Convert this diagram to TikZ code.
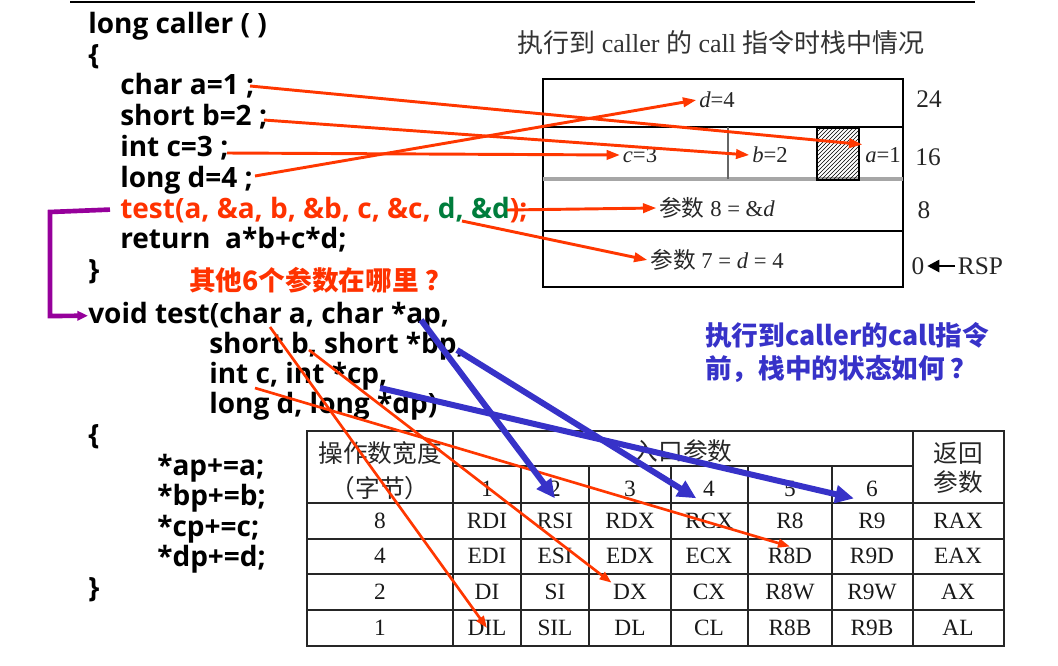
\documentclass[tikz,border=0pt]{standalone}
\usepackage{fontspec}
\setmainfont{Liberation Serif}
\newfontfamily\codefont{Open Sans}
\newfontfamily\cjk{Noto Sans CJK SC}
\usetikzlibrary{arrows.meta,patterns}
\definecolor{redline}{RGB}{255,55,0}
\definecolor{blueline}{RGB}{55,50,200}
\definecolor{purpline}{RGB}{150,0,155}
\definecolor{argred}{RGB}{255,50,0}
\definecolor{arggreen}{RGB}{0,125,60}

\begin{document}
\begin{tikzpicture}[x=0.75pt, y=-0.75pt,
    code/.style={anchor=base west, inner sep=0pt, font=\codefont\bfseries\fontsize{21}{21}\selectfont},
    note/.style={anchor=base west, inner sep=0pt, font=\cjk\bfseries\fontsize{20}{25}\selectfont},
    slot/.style={inner sep=2pt, text=black!85, font=\fontsize{17}{17}\selectfont},
    offs/.style={inner sep=2pt, text=black!85, font=\fontsize{19}{19}\selectfont},
    cell/.style={inner sep=1pt, text=black!90, font=\fontsize{17.5}{17.5}\selectfont},
    head/.style={inner sep=1pt, text=black!85, font=\cjk\fontsize{18.5}{22}\selectfont},
    redarrow/.style={-{Triangle[length=10pt,width=7pt]}, redline, line width=2.2pt},
    thinarrow/.style={-{Triangle[length=9pt,width=6.5pt]}, redline, line width=2pt},
    bluearrow/.style={-{Triangle[length=14pt,width=13pt]}, blueline, line width=4.5pt},
    grid/.style={line width=1pt, black!85}
]
    \useasboundingbox (0,0) rectangle (1058,665);
    \draw[line width=0.8pt] (70,2) -- (975,2);

    \node[code] (caller) at (88,33) {long caller ( )};
    \node[code] (open1) at (88,64) {\{};
    \node[code] (la) at (120,94) {char a=1 ;};
    \node[code] (lb) at (120,125) {short b=2 ;};
    \node[code] (lc) at (120,156) {int c=3 ;};
    \node[code] (ld) at (120,187) {long d=4 ;};
    \node[code, text=argred] (call) at (120,218) {test(a, \&a, b, \&b, c, \&c, \textcolor{arggreen}{d, \&d});};
    \node[code] (ret) at (120,248) {return \ a*b+c*d;};
    \node[code] (close1) at (88,279) {\}};
    \node[note, text=argred] (where) at (189,290) {其他6个参数在哪里\hspace{5pt}？};
    \node[code] (decl) at (88,323) {void test(char a, char *ap,};
    \node[code] (declb) at (209,353) {short b, short *bp,};
    \node[code] (declc) at (209,383) {int c, int *cp,};
    \node[code] (decld) at (209,413) {long d, long *dp)};
    \node[code] (open2) at (88,444) {\{};
    \node[code] (sa) at (157,475) {*ap+=a;};
    \node[code] (sb) at (157,505) {*bp+=b;};
    \node[code] (sc) at (157,536) {*cp+=c;};
    \node[code] (sd) at (157,566) {*dp+=d;};
    \node[code] (close2) at (88,597) {\}};

    \draw[-{Triangle[length=8pt,width=7pt]}, purpline, line width=3.5pt]
        (call.west) ++(-10,0) -- (50,212) -- (50,316) -- (decl.west);

    \node[note, text=blueline, align=left, anchor=north west] (ask) at (705,322)
        {执行到caller的call指令\\前，栈中的状态如何\hspace{4pt}？};

    % stack frame of caller
    \node[text=black!80, font=\fontsize{19.5}{19.5}\selectfont] (title) at (721,43)
        {{\cjk 执行到} caller {\cjk 的} call {\cjk 指令时栈中情况}};
    \draw[line width=1.2pt] (543,79) rectangle (903,287);
    \draw[line width=1pt] (543,127) -- (903,127);
    \draw[line width=2.5pt, black!35] (543,179) -- (903,179);
    \draw[line width=1pt] (543,231) -- (903,231);
    \draw[line width=1pt, black!60] (728,127) -- (728,179);
    \draw[line width=1.2pt, pattern=north east lines] (817,128) rectangle (859,180);
    \node[slot] (d4) at (717,100) {\textit{d}=4};
    \node[slot] (c3) at (640,155) {\textit{c}=3};
    \node[slot] (b2) at (770,155) {\textit{b}=2};
    \node[slot] (a1) at (883,155) {\textit{a}=1};
    \node[slot] (arg8) at (717,208) {{\cjk 参数} 8 = \&\textit{d}};
    \node[slot] (arg7) at (717,260) {{\cjk 参数} 7 = \textit{d} = 4};
    \node[offs] (o24) at (929,99) {24};
    \node[offs] (o16) at (928,157) {16};
    \node[offs] (o8) at (924,210) {8};
    \node[offs] (o0) at (918,266) {0};
    \node[offs, anchor=west] (rsp) at (955,266) {RSP};
    \draw[-{Triangle[length=9pt,width=9pt]}, line width=2pt] (rsp.west) -- (o0.east);

    \coordinate (fa) at (250,86);
    \coordinate (fb) at (264,120);
    \coordinate (fc) at (227,153);
    \coordinate (fd) at (255,176);
    \coordinate (fpd) at (507,210);
    \coordinate (fvd) at (462,221);
    \draw[redarrow] (fa) -- (a1.north west);
    \draw[redarrow] (fb) -- (b2.west);
    \draw[redarrow] (fc) -- (c3.west);
    \draw[redarrow] (fd) -- (d4.west);
    \draw[redarrow] (fpd) -- (arg8.west);
    \draw[redarrow] (fvd) -- (arg7.west);

    % register table
    \draw[grid] (307,431) rectangle (1004,646);
    \draw[grid] (453,466) -- (913,466);
    \foreach \y in {503,539,574,610}
        \draw[grid] (307,\y) -- (1004,\y);
    \foreach \x in {453,913}
        \draw[grid] (\x,431) -- (\x,646);
    \foreach \x in {521,589,671,748,832}
        \draw[grid] (\x,466) -- (\x,646);
    \node[head] (width) at (380,453) {操作数宽度};
    \node[head] (bytes) at (380,488) {（字节）};
    \node[head] (entry) at (683,451) {入口参数};
    \node[head, align=center] (retv) at (958,468) {返回\\参数};
    \foreach \k/\x in {1/487,2/555,3/630,4/709,5/790,6/872}
        \node[cell] (p\k) at (\x,489) {\k};
    \foreach \w/\y/\a/\b/\c/\d/\e/\f/\g in {8/521/RDI/RSI/RDX/RCX/R8/R9/RAX,
            4/556/EDI/ESI/EDX/ECX/R8D/R9D/EAX,
            2/592/DI/SI/DX/CX/R8W/R9W/AX,
            1/628/DIL/SIL/DL/CL/R8B/R9B/AL} {
        \node[cell] (w\w) at (380,\y) {\w};
        \node[cell] (\a) at (487,\y) {\a};
        \node[cell] (\b) at (555,\y) {\b};
        \node[cell] (\c) at (630,\y) {\c};
        \node[cell] (\d) at (709,\y) {\d};
        \node[cell] (\e) at (790,\y) {\e};
        \node[cell] (\f) at (872,\y) {\f};
        \node[cell] (\g) at (958,\y) {\g};
    }

    \coordinate (fva) at (270,327);
    \coordinate (fvb) at (309,350);
    \coordinate (fvc) at (255,388);
    \coordinate (fap) at (421,320);
    \coordinate (fbp) at (457,350);
    \coordinate (fcp) at (380,388);
    \draw[thinarrow] (fva) -- (DIL.center);
    \draw[thinarrow] (fvb) -- (DX.north west);
    \draw[thinarrow] (fvc) -- (R8D.north);
    \draw[bluearrow] (fap) -- (p2.south);
    \draw[bluearrow] (fbp) -- ([xshift=-4pt]p4.south west);
    \draw[bluearrow] (fcp) -- ([xshift=-8pt]p6.south west);
\end{tikzpicture}
\end{document}
